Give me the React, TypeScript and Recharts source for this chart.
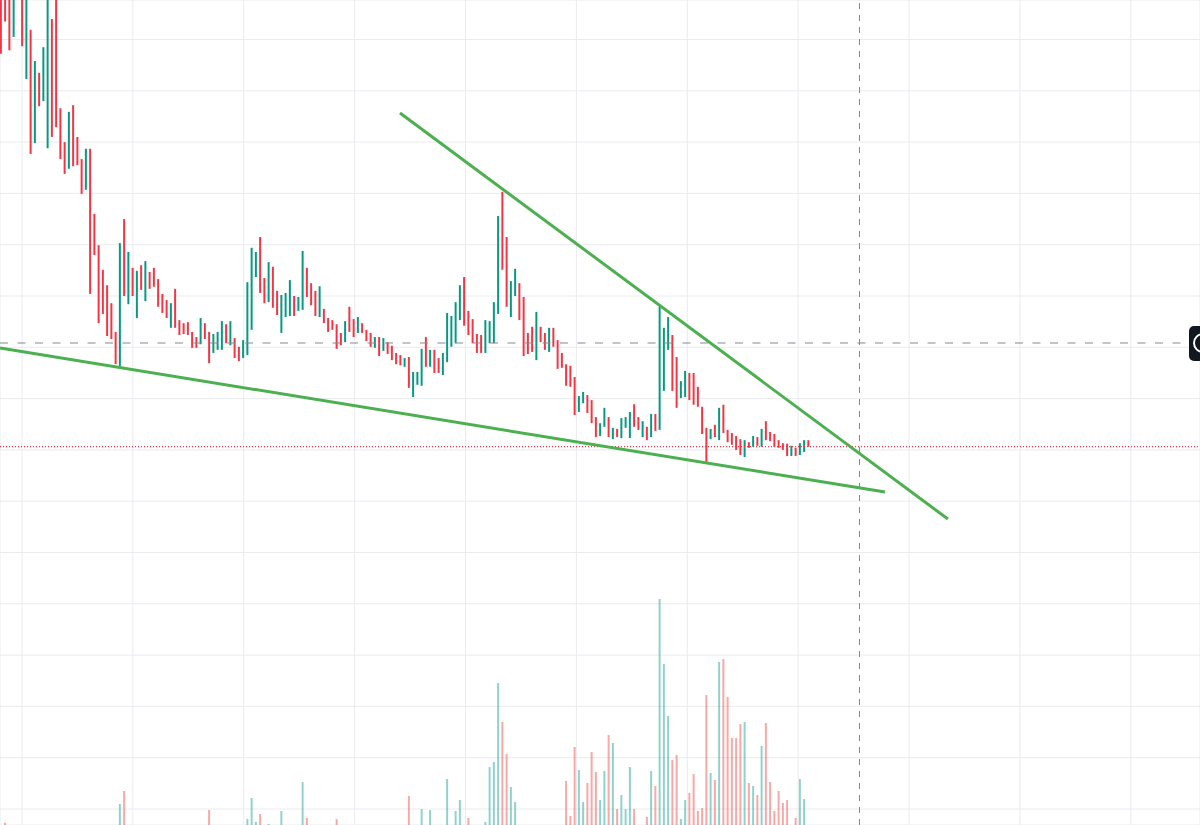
import React from 'react';
import {
  ComposedChart,
  Bar,
  XAxis,
  YAxis,
  CartesianGrid,
  ReferenceLine,
  Cell,
} from 'recharts';

// candle highs / lows, one per bar (index = bar number)
const highs = [
  165, 163, 161, 164, 166, 162, 160, 151.9, 145.8, 143.5,
  148.5, 159, 154.0, 158.5, 136.6, 130.0, 135.9, 137.2, 131.0, 126.7,
  128.7, 128.7, 116.0, 109.9, 105.1, 102.1, 98.6, 93.0, 110.3, 115.0,
  108.6, 105.5, 104.9, 106.0, 106.8, 104.7, 105.5, 103.3, 100.4, 99.2,
  98.6, 101.4, 95.3, 94.7, 94.9, 93.0, 92.0, 95.7, 94.7, 93.0,
  92.6, 93.0, 95.1, 94.5, 95.1, 91.8, 90.1, 91.4, 102.7, 109.4,
  108.6, 111.5, 103.5, 106.6, 105.7, 101.0, 100.2, 100.6, 103.1, 100.0,
  99.8, 108.8, 105.5, 102.5, 101.0, 101.9, 97.5, 95.7, 95.3, 94.5,
  92.8, 95.1, 97.9, 95.5, 95.9, 94.7, 93.4, 92.8, 92.0, 92.0,
  91.8, 91.0, 90.3, 88.9, 88.5, 87.9, 88.1, 85.2, 85.2, 89.7,
  92.0, 89.5, 89.5, 87.9, 88.9, 96.7, 96.1, 98.8, 102.1, 103.7,
  97.1, 95.5, 92.6, 92.4, 95.3, 95.1, 98.8, 115.6, 120.3, 111.5,
  102.9, 105.3, 102.5, 99.8, 92.8, 94.0, 96.9, 94.0, 92.8, 93.8,
  93.8, 91.4, 88.9, 86.7, 86.4, 84.2, 80.5, 81.3, 80.7, 79.7,
  76.4, 75.2, 78.2, 76.4, 74.3, 74.1, 76.2, 76.4, 77.4, 78.9,
  76.4, 75.6, 74.5, 77.0, 77.0, 97.9, 93.8, 95.9, 92.4, 88.1,
  83.4, 85.4, 85.0, 85.0, 82.3, 78.4, 74.3, 74.1, 74.9, 78.2,
  78.8, 73.9, 73.3, 72.7, 72.1, 71.9, 71.5, 72.7, 72.5, 74.1,
  75.6, 73.5, 73.1, 71.9, 71.3, 71.2, 70.8, 70.4, 71.3, 71.9,
  71.9,
];

const lows = [
  147.2, 153.5, 147.9, 150.5, 158.5, 148.7, 142.3, 127.7, 129.8, 137.0,
  138.0, 128.8, 131.0, 132.9, 126.7, 123.8, 124.8, 125.3, 125.5, 119.9,
  120.7, 100.4, 108.0, 94.7, 96.5, 92.2, 91.6, 86.7, 86.0, 100.0,
  98.4, 100.0, 95.7, 101.2, 99.0, 101.4, 101.8, 97.9, 96.7, 95.7,
  93.8, 93.8, 92.4, 92.6, 92.4, 89.9, 89.9, 90.6, 91.6, 86.9,
  88.9, 89.5, 89.5, 90.8, 90.4, 87.9, 87.3, 87.9, 88.5, 93.4,
  103.7, 100.6, 98.6, 98.8, 97.7, 96.3, 92.8, 95.9, 96.1, 96.1,
  97.1, 97.3, 99.8, 98.2, 96.1, 95.9, 94.7, 93.0, 93.4, 89.7,
  90.4, 91.0, 93.0, 92.0, 92.8, 92.8, 91.2, 90.1, 89.9, 88.3,
  89.3, 88.7, 87.5, 86.7, 86.5, 86.2, 82.1, 80.3, 82.7, 82.5,
  86.2, 86.2, 85.0, 85.0, 84.6, 87.1, 90.1, 90.8, 95.3, 94.2,
  92.4, 90.8, 88.9, 88.9, 88.9, 90.8, 90.8, 96.5, 105.1, 97.9,
  95.9, 100.0, 95.3, 88.3, 88.7, 89.1, 87.5, 91.0, 89.5, 89.1,
  90.1, 85.8, 86.0, 82.5, 82.3, 76.8, 77.4, 79.1, 77.2, 75.2,
  72.5, 72.7, 74.5, 72.5, 72.1, 72.5, 72.3, 74.3, 72.3, 74.5,
  73.9, 72.5, 71.9, 72.5, 73.7, 73.9, 81.5, 89.5, 81.5, 78.2,
  80.1, 80.3, 79.7, 78.8, 78.4, 73.1, 67.4, 72.1, 72.5, 71.9,
  73.3, 71.5, 71.0, 70.0, 69.0, 68.6, 70.4, 70.6, 70.8, 70.6,
  71.9, 71.7, 70.6, 70.4, 70.0, 68.8, 68.8, 68.8, 69.0, 69.6,
  70.6,
];

// u = close above open (teal), d = close below open (red)
const directions = (
  'ddduududud' + 'uudddduddd' + 'udddddddud' + 'udududdddd' + 'uddddddudd' +
  'uuududduuu' + 'uddudduuud' + 'uudddudddd' + 'duddudddud' + 'udddduduuu' +
  'dudduuuuud' + 'dddduuuudd' + 'uudddduddu' + 'dddddduudd' + 'duududuuud' +
  'dududuuudd' + 'uudddddudu' + 'dddddududu' + 'dddddduduu' + 'd'
).split('');

const volumes = [
  0, 2.3, 0, 0, 0, 0, 0, 0, 0, 0,
  0, 0, 0, 0, 0, 0, 0, 0, 0, 0,
  0, 0, 0, 0, 0, 0, 0, 0, 21, 34,
  0, 0, 0, 0, 0, 0, 0, 0, 0, 0,
  0, 0, 0, 0, 0, 0, 0, 0, 0, 15,
  0, 0, 0, 0, 0, 0, 0, 0, 6, 27,
  3, 11, 0, 1, 0, 0, 14, 0, 0, 0,
  0, 43, 7, 0, 0, 0, 0, 0, 0, 6,
  0, 0, 0, 0, 0, 0, 0, 0, 0, 0,
  0, 0, 0, 0, 0, 0, 29, 0, 0, 16,
  0, 15, 0, 0, 0, 46, 0, 14, 25, 0,
  7, 0, 0, 0, 3, 58, 63, 142, 103, 71,
  38, 23, 0, 0, 0, 0, 0, 0, 0, 0,
  0, 0, 0, 44, 9, 78, 55, 23, 42, 73,
  53, 25, 54, 90, 82, 16, 30, 16, 58, 16,
  0, 0, 8, 54, 39, 226, 161, 109, 65, 70,
  6, 25, 32, 51, 14, 17, 130, 52, 45, 163,
  166, 128, 87, 87, 101, 103, 42, 39, 30, 79,
  102, 43, 14, 34, 22, 25, 0, 7, 46, 26,
  0,
];

const timeTicks = [4.94, 31.03, 57.12, 83.21, 109.3, 135.39, 161.48, 187.57, 213.66, 239.75, 265.84];
const priceTicks = [0, 10, 20, 30, 40, 50, 60, 70, 80, 90, 100, 110, 120, 130, 140, 150];

const lastPrice = 70.62;
const crossPrice = 90.84;
const crossTime = 202;

const supportLine = [
  { x: -0.235, y: 89.86 },
  { x: 208.0, y: 61.79 },
];
const resistanceLine = [
  { x: 93.88, y: 135.67 },
  { x: 222.8, y: 56.53 },
];

const WIDTH = 1200;
const HEIGHT = 825;
const timeDomain: [number, number] = [-0.235, 282.12];
const priceDomain: [number, number] = [-3.12, 157.7];
const volDomain: [number, number] = [0, 825];

const UP = '#089981';
const DOWN = '#f23645';
const UP_VOL = 'rgba(38,166,154,0.5)';
const DOWN_VOL = 'rgba(239,83,80,0.5)';
const TREND = '#4caf50';
const CROSS = '#868993';

const candles = highs.map((h, i) => ({
  t: i,
  range: [lows[i], h],
  vol: volumes[i],
  up: directions[i] === 'u',
}));

const noMargin = { top: 0, right: 0, bottom: 0, left: 0 };

function PriceTag(props: any) {
  const vb = props.viewBox || {};
  const right = (vb.x || 0) + (vb.width || 0);
  const y = vb.y || 0;
  return (
    <g>
      <rect x={right - 11} y={y - 17} width={30} height={35} rx={5} fill="#131722" />
      <circle cx={right + 3} cy={y} r={9} fill="none" stroke="#ffffff" strokeWidth={2} />
    </g>
  );
}

export default function App() {
  return (
    <div
      style={{
        position: 'absolute',
        left: 0,
        top: 0,
        width: WIDTH,
        height: HEIGHT,
        overflow: 'hidden',
        background: '#ffffff',
      }}
    >
      {/* bottom layer: grid + volume */}
      <div style={{ position: 'absolute', left: 0, top: 0 }}>
        <ComposedChart width={WIDTH} height={HEIGHT} data={candles} margin={noMargin}>
          <XAxis type="number" dataKey="t" domain={timeDomain} ticks={timeTicks} interval={0} allowDataOverflow hide />
          <YAxis yAxisId="grid" type="number" domain={priceDomain} ticks={priceTicks} interval={0} allowDataOverflow hide />
          <YAxis yAxisId="vol" type="number" domain={volDomain} allowDataOverflow hide />
          <CartesianGrid yAxisId="grid" stroke="#e9ebef" strokeWidth={1} />
          <Bar yAxisId="vol" dataKey="vol" barSize={2} isAnimationActive={false}>
            {candles.map(c => (
              <Cell key={c.t} fill={c.up ? UP_VOL : DOWN_VOL} />
            ))}
          </Bar>
        </ComposedChart>
      </div>

      {/* top layer: candles + drawings */}
      <div style={{ position: 'absolute', left: 0, top: 0 }}>
        <ComposedChart width={WIDTH} height={HEIGHT} data={candles} margin={noMargin}>
          <XAxis type="number" dataKey="t" domain={timeDomain} allowDataOverflow hide />
          <YAxis yAxisId="price" type="number" domain={priceDomain} allowDataOverflow hide />
          <ReferenceLine yAxisId="price" x={crossTime} stroke={CROSS} strokeDasharray="6 6" />
          <ReferenceLine
            yAxisId="price"
            y={crossPrice}
            stroke={CROSS}
            strokeDasharray="8 9.5"
            label={<PriceTag />}
          />
          <ReferenceLine yAxisId="price" y={lastPrice} stroke={DOWN} strokeWidth={1.2} strokeDasharray="1 2" />
          <Bar yAxisId="price" dataKey="range" barSize={2} isAnimationActive={false}>
            {candles.map(c => (
              <Cell key={c.t} fill={c.up ? UP : DOWN} />
            ))}
          </Bar>
          <ReferenceLine yAxisId="price" segment={supportLine} stroke={TREND} strokeWidth={3} ifOverflow="visible" />
          <ReferenceLine yAxisId="price" segment={resistanceLine} stroke={TREND} strokeWidth={3} ifOverflow="visible" />
        </ComposedChart>
      </div>
    </div>
  );
}
